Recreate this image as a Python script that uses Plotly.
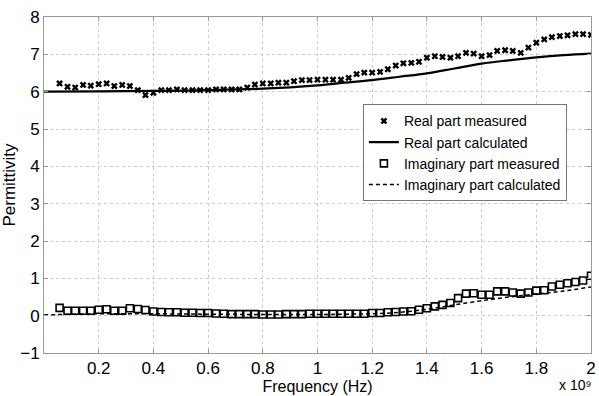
import plotly.graph_objects as go

# Frequency in units of 1e9 Hz
freq = [0.057, 0.086, 0.114, 0.143, 0.171, 0.2, 0.229, 0.257, 0.286, 0.314,
        0.343, 0.371, 0.4, 0.429, 0.457, 0.486, 0.514, 0.543, 0.571, 0.6,
        0.629, 0.657, 0.686, 0.714, 0.743, 0.771, 0.8, 0.829, 0.857, 0.886,
        0.914, 0.943, 0.971, 1.0, 1.029, 1.057, 1.086, 1.114, 1.143, 1.171,
        1.2, 1.229, 1.257, 1.286, 1.314, 1.343, 1.371, 1.4, 1.429, 1.457,
        1.486, 1.514, 1.543, 1.571, 1.6, 1.629, 1.657, 1.686, 1.714, 1.743,
        1.771, 1.8, 1.829, 1.857, 1.886, 1.914, 1.943, 1.971, 2.0]

real_measured = [6.22, 6.13, 6.11, 6.18, 6.16, 6.20, 6.22, 6.15, 6.18, 6.15,
                 6.04, 5.91, 5.97, 6.04, 6.04, 6.06, 6.04, 6.04, 6.04, 6.04,
                 6.06, 6.06, 6.06, 6.06, 6.11, 6.19, 6.22, 6.22, 6.24, 6.24,
                 6.28, 6.31, 6.31, 6.32, 6.32, 6.32, 6.32, 6.37, 6.47, 6.51,
                 6.51, 6.53, 6.60, 6.70, 6.76, 6.77, 6.80, 6.91, 6.95, 6.93,
                 6.91, 6.95, 7.04, 7.02, 6.95, 6.98, 7.09, 7.11, 7.09, 7.04,
                 7.18, 7.31, 7.40, 7.46, 7.49, 7.51, 7.54, 7.54, 7.52]

imag_measured = [0.21, 0.13, 0.13, 0.13, 0.13, 0.16, 0.17, 0.13, 0.13, 0.20,
                 0.18, 0.15, 0.11, 0.10, 0.09, 0.09, 0.08, 0.08, 0.07, 0.07,
                 0.06, 0.05, 0.04, 0.04, 0.04, 0.04, 0.03, 0.03, 0.03, 0.04,
                 0.04, 0.04, 0.05, 0.05, 0.05, 0.05, 0.05, 0.05, 0.05, 0.05,
                 0.07, 0.07, 0.09, 0.10, 0.11, 0.12, 0.16, 0.20, 0.25, 0.29,
                 0.34, 0.47, 0.59, 0.60, 0.56, 0.56, 0.65, 0.65, 0.62, 0.59,
                 0.62, 0.67, 0.68, 0.78, 0.83, 0.87, 0.90, 0.94, 1.07]

calc_freq = [0.0, 0.2, 0.4, 0.6, 0.8, 1.0, 1.1, 1.2, 1.3, 1.4, 1.5, 1.6, 1.7, 1.8, 1.9, 2.0]
real_calculated = [6.0, 6.01, 6.02, 6.04, 6.08, 6.17, 6.24, 6.31, 6.40, 6.49, 6.62, 6.75, 6.84, 6.92, 6.98, 7.02]
imag_calculated = [0.02, 0.05, 0.05, 0.04, 0.03, 0.03, 0.04, 0.05, 0.09, 0.17, 0.29, 0.40, 0.50, 0.58, 0.66, 0.77]

x_tickvals = [0.2, 0.4, 0.6, 0.8, 1.0, 1.2, 1.4, 1.6, 1.8, 2.0]
x_ticktext = ["0.2", "0.4", "0.6", "0.8", "1", "1.2", "1.4", "1.6", "1.8", "2"]
y_tickvals = [-1, 0, 1, 2, 3, 4, 5, 6, 7, 8]

FONT = "Liberation Sans, Arial, sans-serif"

fig = go.Figure()
fig.add_trace(go.Scatter(x=freq, y=real_measured, mode="markers", name="Real part measured",
                         marker=dict(symbol="x", size=6, color="black", line=dict(width=0))))
fig.add_trace(go.Scatter(x=calc_freq, y=real_calculated, mode="lines", name="Real part calculated",
                         line=dict(color="black", width=2.2, shape="spline")))
fig.add_trace(go.Scatter(x=freq, y=imag_measured, mode="markers", name="Imaginary part measured",
                         marker=dict(symbol="square-open", size=7, color="black", line=dict(width=1.6, color="black"))))
fig.add_trace(go.Scatter(x=calc_freq, y=imag_calculated, mode="lines", name="Imaginary part calculated",
                         line=dict(color="black", width=1.5, dash="4px,3px", shape="spline")))

axis_common = dict(showline=True, linecolor="#9a9a9a", linewidth=1, mirror="ticks",
                   ticks="inside", ticklen=4, tickcolor="#9a9a9a", automargin=False,
                   showgrid=True, gridcolor="#cccccc", griddash="dot", gridwidth=1,
                   zeroline=False, tickfont=dict(family=FONT, size=17, color="black"))

fig.update_xaxes(range=[0, 2], tickvals=x_tickvals, ticktext=x_ticktext,
                 title=dict(text="Frequency (Hz)", font=dict(family=FONT, size=16, color="black"), standoff=0),
                 **axis_common)
fig.update_yaxes(range=[-1, 8], tickvals=y_tickvals,
                 title=dict(text="Permittivity", font=dict(family=FONT, size=17, color="black"), standoff=0),
                 **axis_common)

fig.add_annotation(text="x 10\u2079", xref="paper", yref="paper", x=1.003, y=-0.125,
                   xanchor="right", yanchor="bottom", showarrow=False,
                   font=dict(family=FONT, size=14, color="black"))

fig.update_layout(
    width=599, height=396,
    margin=dict(l=44, r=8, t=17, b=43),
    paper_bgcolor="white", plot_bgcolor="white",
    font=dict(family=FONT, size=14, color="black"),
    legend=dict(x=0.583, y=0.74, xanchor="left", yanchor="top",
                bgcolor="white", bordercolor="#777777", borderwidth=1,
                font=dict(family=FONT, size=14, color="black"),
                itemwidth=30, tracegroupgap=0),
    showlegend=True,
)

fig.write_html("out.html", config={"displayModeBar": False},
               post_script="document.body.style.margin='0';document.body.style.overflow='hidden';")
